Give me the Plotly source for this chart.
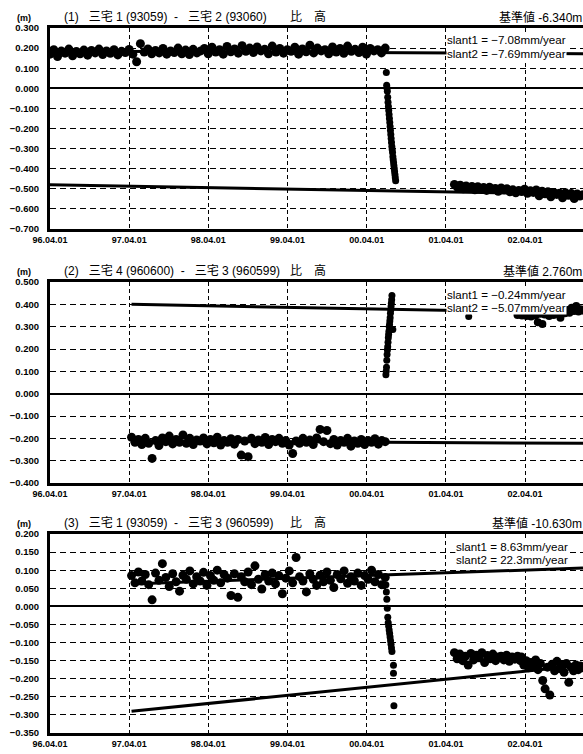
import plotly.graph_objects as go
import pandas as pd

# ---------------- data ----------------
# Chart (1)  三宅1 (93059) - 三宅2 (93060)
c1_pre_span = ("1996-04-01", "2000-06-25")
c1_pre = [0.170, 0.192, 0.158, 0.185, 0.175, 0.195, 0.162, 0.183, 0.172, 0.190,
          0.165, 0.188, 0.176, 0.195, 0.168, 0.186, 0.174, 0.192, 0.166, 0.184,
          0.178, 0.193, 0.170, 0.132, 0.222, 0.180, 0.196, 0.172, 0.188, 0.176,
          0.198, 0.170, 0.186, 0.178, 0.200, 0.172, 0.190, 0.168, 0.194, 0.176,
          0.186, 0.198, 0.172, 0.204, 0.180, 0.192, 0.170, 0.208, 0.182, 0.196,
          0.175, 0.212, 0.184, 0.200, 0.178, 0.206, 0.186, 0.194, 0.172, 0.210,
          0.180, 0.198, 0.175, 0.192, 0.184, 0.204, 0.170, 0.196, 0.182, 0.214,
          0.176, 0.200, 0.186, 0.192, 0.172, 0.206, 0.180, 0.198, 0.174, 0.210,
          0.184, 0.194, 0.178, 0.204, 0.170, 0.198, 0.186, 0.192, 0.176, 0.200]
c1_jump_span = ("2000-06-30", "2000-08-12")
c1_jump = [0.078, 0.015, 0.000, -0.015, -0.045, -0.070, -0.090, -0.110, -0.130, -0.150,
           -0.170, -0.190, -0.210, -0.230, -0.250, -0.270, -0.290, -0.305, -0.320, -0.340,
           -0.355, -0.370, -0.385, -0.400, -0.415, -0.430, -0.445, -0.460]
c1_post_span = ("2001-05-10", "2002-12-24")
c1_post = [-0.478, -0.492, -0.482, -0.500, -0.486, -0.495, -0.488, -0.505, -0.490, -0.498,
           -0.494, -0.508, -0.492, -0.502, -0.498, -0.512, -0.496, -0.505, -0.500, -0.515,
           -0.505, -0.520, -0.508, -0.514, -0.502, -0.522, -0.510, -0.518, -0.506, -0.535,
           -0.512, -0.525, -0.515, -0.540, -0.518, -0.528, -0.522, -0.545, -0.520, -0.532,
           -0.524, -0.548, -0.526, -0.536, -0.530]
c1_trend_dates = ["1996-04-01", "2002-12-24"]
c1_trend1 = [-0.480, -0.527]
c1_trend2 = [0.186, 0.172]

# Chart (2)  三宅4 (960600) - 三宅3 (960599)
c2_pre_span = ("1997-04-12", "2000-06-25")
c2_pre = [-0.195, -0.218, -0.205, -0.228, -0.200, -0.222, -0.290, -0.210, -0.232, -0.198,
          -0.215, -0.190, -0.225, -0.205, -0.218, -0.185, -0.222, -0.200, -0.228, -0.208,
          -0.212, -0.198, -0.225, -0.205, -0.220, -0.195, -0.230, -0.210, -0.218, -0.202,
          -0.226, -0.205, -0.275, -0.212, -0.282, -0.200, -0.224, -0.208, -0.218, -0.196,
          -0.228, -0.205, -0.215, -0.200, -0.222, -0.210, -0.230, -0.268, -0.212, -0.222,
          -0.200, -0.218, -0.208, -0.228, -0.198, -0.160, -0.215, -0.165, -0.224, -0.205,
          -0.230, -0.210, -0.218, -0.200, -0.235, -0.212, -0.222, -0.205, -0.228, -0.210,
          -0.218, -0.202, -0.226, -0.210, -0.215]
c2_jump_span = ("2000-06-28", "2000-07-26")
c2_jump = [0.085, 0.100, 0.118, 0.150, 0.175, 0.195, 0.210, 0.230, 0.250, 0.265,
           0.280, 0.300, 0.310, 0.325, 0.340, 0.360, 0.375, 0.390, 0.405, 0.420, 0.440]
c2_extra_dates = ["2000-07-30", "2001-07-15"]
c2_extra = [0.287, 0.345]
c2_post_span = ("2002-02-25", "2002-12-24")
c2_post = [0.352, 0.356, 0.350, 0.360, 0.348, 0.355, 0.345, 0.362, 0.350, 0.320,
           0.358, 0.312, 0.355, 0.362, 0.348, 0.365, 0.352, 0.370, 0.358, 0.340,
           0.368, 0.360, 0.375, 0.362, 0.385, 0.370, 0.392, 0.368, 0.378, 0.372]
c2_trend_dates = ["1997-04-12", "2002-12-24"]
c2_trend1 = [-0.212, -0.222]
c2_trend2 = [0.400, 0.362]

# Chart (3)  三宅1 (93059) - 三宅3 (960599)
c3_pre_span = ("1997-04-12", "2000-06-25")
c3_pre = [0.085, 0.065, 0.095, 0.070, 0.088, 0.060, 0.018, 0.092, 0.072, 0.118,
          0.080, 0.055, 0.090, 0.068, 0.042, 0.086, 0.075, 0.098, 0.062, 0.082,
          0.070, 0.094, 0.058, 0.085, 0.072, 0.100, 0.065, 0.088, 0.078, 0.030,
          0.090, 0.025, 0.082, 0.068, 0.095, 0.060, 0.112, 0.075, 0.048, 0.088,
          0.070, 0.092, 0.062, 0.085, 0.035, 0.078, 0.098, 0.065, 0.135, 0.082,
          0.070, 0.040, 0.090, 0.075, 0.058, 0.086, 0.068, 0.095, 0.072, 0.052,
          0.088, 0.076, 0.098, 0.064, 0.082, 0.070, 0.092, 0.058, 0.085, 0.075,
          0.100, 0.068, 0.088, 0.060, 0.080]
c3_jump_span = ("2000-06-28", "2000-07-26")
c3_jump = [0.060, 0.040, 0.020, -0.005, -0.030, -0.045, -0.055, -0.065, -0.075, -0.085,
           -0.095, -0.105, -0.115, -0.125]
c3_extra_dates = ["2000-08-02", "2000-08-02", "2000-08-04"]
c3_extra = [-0.163, -0.185, -0.275]
c3_post_span = ("2001-05-10", "2002-03-10")
c3_post = [-0.128, -0.145, -0.132, -0.150, -0.138, -0.162, -0.130, -0.148, -0.135, -0.142,
           -0.128, -0.155, -0.136, -0.145, -0.132, -0.150, -0.140, -0.138, -0.148, -0.135,
           -0.152, -0.140, -0.146, -0.138, -0.150]
c3_late_span = ("2002-03-15", "2002-12-24")
c3_late = [-0.140, -0.162, -0.150, -0.170, -0.155, -0.165, -0.148, -0.175, -0.158, -0.205,
           -0.228, -0.168, -0.245, -0.160, -0.178, -0.152, -0.172, -0.162, -0.182, -0.158,
           -0.210, -0.168, -0.178, -0.162, -0.175, -0.165, -0.170]
c3_trend_dates = ["1997-04-12", "2002-12-24"]
c3_trend1 = [0.062, 0.106]
c3_trend2 = [-0.290, -0.163]

# axis tick labels
x_tick_dates = ["1996-04-01", "1997-04-01", "1998-04-01", "1999-04-01",
                "2000-04-01", "2001-04-01", "2002-04-01"]
x_tick_text = ["96.04.01", "97.04.01", "98.04.01", "99.04.01",
               "00.04.01", "01.04.01", "02.04.01"]
x_range = ["1996-04-01", "2002-12-24"]

titles = ["(1)   三宅 1 (93059)  -   三宅 2 (93060)",
          "(2)   三宅 4 (960600)  -   三宅 3 (960599)",
          "(3)   三宅 1 (93059)  -   三宅 3 (960599)"]
base_values = ["基準値 -6.340m", "基準値 2.760m", "基準値 -10.630m"]
slant_texts = [("slant1 = −7.08mm/year", "slant2 = −7.69mm/year"),
               ("slant1 = −0.24mm/year", "slant2 = −5.07mm/year"),
               ("slant1 = 8.63mm/year", "slant2 = 22.3mm/year")]
y_ranges = [(-0.7, 0.3), (-0.4, 0.5), (-0.35, 0.2)]
y_dticks = [0.1, 0.1, 0.05]

# ---------------- layout geometry (pixels) ----------------
W, H = 583, 754
def pxx(x): return x / W
def pyy(y): return 1 - y / H

plot_left = 50
panels = [  # top, bottom pixel rows of each plot area
    (28, 229), (282, 483), (534, 733)]

def dates(span, n):
    return pd.date_range(span[0], span[1], periods=n)

# (dates, values, marker size)
series = [
    [(dates(c1_pre_span, len(c1_pre)), c1_pre, 9),
     (dates(c1_jump_span, len(c1_jump)), c1_jump, 7),
     (dates(c1_post_span, len(c1_post)), c1_post, 9)],
    [(dates(c2_pre_span, len(c2_pre)), c2_pre, 9),
     (dates(c2_jump_span, len(c2_jump)), c2_jump, 7),
     (pd.to_datetime(c2_extra_dates), c2_extra, 7),
     (dates(c2_post_span, len(c2_post)), c2_post, 8)],
    [(dates(c3_pre_span, len(c3_pre)), c3_pre, 9),
     (dates(c3_jump_span, len(c3_jump)), c3_jump, 7),
     (pd.to_datetime(c3_extra_dates), c3_extra, 7),
     (dates(c3_post_span, len(c3_post)), c3_post, 9),
     (dates(c3_late_span, len(c3_late)), c3_late, 9)],
]
trends = [(c1_trend_dates, c1_trend1, c1_trend2),
          (c2_trend_dates, c2_trend1, c2_trend2),
          (c3_trend_dates, c3_trend1, c3_trend2)]

fig = go.Figure()
NUM_FONT = "Liberation Sans, Arial, sans-serif"
CJK_FONT = "Liberation Sans, Noto Sans CJK JP, sans-serif"

for i in range(3):
    xa = "x" if i == 0 else f"x{i+1}"
    ya = "y" if i == 0 else f"y{i+1}"
    td, t1, t2 = trends[i]
    for tv in (t1, t2):
        fig.add_trace(go.Scatter(x=pd.to_datetime(td), y=tv, mode="lines",
                                 line=dict(color="black", width=3),
                                 xaxis=xa, yaxis=ya, showlegend=False,
                                 hoverinfo="skip"))
    for d, v, ms in series[i]:
        fig.add_trace(go.Scatter(x=d, y=v, mode="markers",
                                 marker=dict(color="black", size=ms),
                                 xaxis=xa, yaxis=ya, showlegend=False))

layout = dict(width=W, height=H, margin=dict(l=0, r=0, t=0, b=0, pad=0),
              paper_bgcolor="white", plot_bgcolor="white",
              font=dict(family=NUM_FONT, color="black", size=10))

annotations = []
for i in range(3):
    top, bot = panels[i]
    xk = "xaxis" if i == 0 else f"xaxis{i+1}"
    yk = "yaxis" if i == 0 else f"yaxis{i+1}"
    anchor_y = "y" if i == 0 else f"y{i+1}"
    anchor_x = "x" if i == 0 else f"x{i+1}"
    layout[xk] = dict(domain=[pxx(plot_left), 1.0], anchor=anchor_y,
                      type="date", range=x_range, automargin=False,
                      tickvals=x_tick_dates, ticktext=x_tick_text,
                      showgrid=True, gridcolor="black", gridwidth=1,
                      griddash="4px,3px",
                      showline=True, linecolor="black", linewidth=3,
                      mirror=True, ticks="",
                      tickfont=dict(family=NUM_FONT, size=9, color="black",
                                    weight="bold"),
                      zeroline=False, fixedrange=True)
    lo, hi = y_ranges[i]
    layout[yk] = dict(domain=[pyy(bot), pyy(top)], anchor=anchor_x,
                      range=[lo, hi], dtick=y_dticks[i], tick0=0,
                      tickformat=".3f", automargin=False,
                      showgrid=True, gridcolor="black", gridwidth=1,
                      griddash="6px,4px",
                      zeroline=True, zerolinecolor="black", zerolinewidth=2,
                      showline=True, linecolor="black", linewidth=3,
                      ticks="", ticklabelstandoff=6,
                      tickfont=dict(family=NUM_FONT, size=9.5, color="black",
                                    weight="bold"),
                      fixedrange=True)
    ty = top - 11
    annotations.append(dict(x=pxx(63), y=pyy(ty), xref="paper", yref="paper",
                            text=titles[i], showarrow=False, xanchor="left",
                            yanchor="middle", borderpad=0,
                            font=dict(family=CJK_FONT, size=12, color="black")))
    annotations.append(dict(x=pxx(289), y=pyy(ty), xref="paper", yref="paper",
                            text="比　高", showarrow=False, xanchor="left",
                            yanchor="middle", borderpad=0,
                            font=dict(family=CJK_FONT, size=12, color="black")))
    annotations.append(dict(x=1.0, y=pyy(ty), xref="paper", yref="paper",
                            text=base_values[i], showarrow=False, xanchor="right",
                            yanchor="middle", borderpad=0,
                            font=dict(family=CJK_FONT, size=12, color="black")))
    annotations.append(dict(x=pxx(24), y=pyy(top - 10), xref="paper", yref="paper",
                            text="(m)", showarrow=False, xanchor="center",
                            yanchor="middle", borderpad=0,
                            font=dict(family=NUM_FONT, size=9, color="black",
                                      weight="bold")))
    sx = 446 if i < 2 else 455
    s1, s2 = slant_texts[i]
    annotations.append(dict(x=pxx(sx), y=pyy(top + 12), xref="paper", yref="paper",
                            text=s1, showarrow=False, xanchor="left",
                            yanchor="middle", bgcolor="white", borderpad=0,
                            font=dict(family=NUM_FONT, size=11.6, color="black")))
    annotations.append(dict(x=pxx(sx), y=pyy(top + 25), xref="paper", yref="paper",
                            text=s2, showarrow=False, xanchor="left",
                            yanchor="middle", bgcolor="white", borderpad=0,
                            font=dict(family=NUM_FONT, size=11.6, color="black")))

layout["annotations"] = annotations
fig.update_layout(**layout)
fig.write_html("out.html")
